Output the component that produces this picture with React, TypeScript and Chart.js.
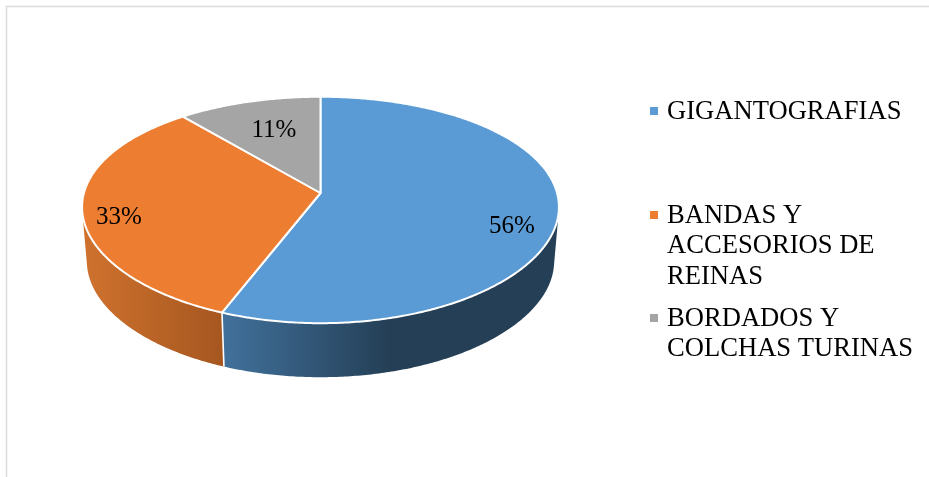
import React, { useEffect, useRef } from "react";
import { Chart, registerables } from "chart.js";

Chart.register(...registerables);

const categories = ["GIGANTOGRAFIAS", "BANDAS Y ACCESORIOS DE REINAS", "BORDADOS Y COLCHAS TURINAS"];
const legendLines = [["GIGANTOGRAFIAS"], ["BANDAS Y", "ACCESORIOS DE", "REINAS"], ["BORDADOS Y", "COLCHAS TURINAS"]];
const values = [56, 33, 11];
const colors = ["#5b9bd5", "#ed7d31", "#a5a5a5"];

const LABEL_FONT = '25px "Liberation Serif"';
const LEGEND_FONT = '26.6px "Liberation Serif"';
const LEGEND_Y = [112, 216, 319];
const LEGEND_LINE = 30.5;
const LABEL_POS = [[512, 226], [119, 217], [274, 130]];
const CY = 193;
const KEEL_X = 0.125;
const KEEL_Y = 0.15;
const DEPTH = 54;
const WALLS: [number, number, [number, string][]][] = [
  [222, 558, [[0, "#41719c"], [0.5, "#243f56"], [1, "#243f56"]]],
  [83, 222, [[0, "#cf722e"], [1, "#a65720"]]],
  [184, 320, [[0, "#7c7c7c"], [1, "#636363"]]],
];

const project = (el: any, a: number) => {
  const X = Math.cos(a);
  const Y = -Math.sin(a);
  return {
    x: el.x + (el.outerRadius * 0.996 * X) / (1 + KEEL_X * Y),
    y: CY - (el.outerRadius * 0.466 * Y) / (1 + KEEL_Y * Y),
  };
};

const rim = (el: any) => {
  const pts = [];
  const n = Math.max(2, Math.ceil((el.endAngle - el.startAngle) / 0.01));
  for (let i = 0; i <= n; i++) pts.push(project(el, el.startAngle + ((el.endAngle - el.startAngle) * i) / n));
  return pts;
};

const down = (el: any, p: { x: number; y: number }) => ({ x: el.x + (p.x - el.x) * 0.98, y: p.y + DEPTH });

const pie3d = {
  id: "pie3d",
  beforeDatasetDraw(chart: any) {
    const ctx = chart.ctx;
    const arcs = chart.getDatasetMeta(0).data;
    ctx.save();
    ctx.lineJoin = "round";
    [2, 1, 0].forEach((i) => {
      const el = arcs[i];
      const pts = rim(el);
      const [x0, x1, stops] = WALLS[i];
      const g = ctx.createLinearGradient(x0, 0, x1, 0);
      stops.forEach(([o, c]) => g.addColorStop(o, c));
      ctx.fillStyle = g;
      ctx.beginPath();
      for (let j = 0; j < pts.length - 1; j++) {
        const quad = [pts[j], pts[j + 1], down(el, pts[j + 1]), down(el, pts[j])];
        let area = 0;
        quad.forEach((p, k) => {
          const q = quad[(k + 1) % 4];
          area += p.x * q.y - q.x * p.y;
        });
        if (area < 0) quad.reverse();
        quad.forEach((p, k) => (k ? ctx.lineTo(p.x, p.y) : ctx.moveTo(p.x, p.y)));
        ctx.closePath();
      }
      ctx.fill("nonzero");
    });
    // seam between the two visible walls
    const seam = project(arcs[0], arcs[0].endAngle);
    const seamB = down(arcs[0], seam);
    ctx.strokeStyle = "#ffffff";
    ctx.lineWidth = 1.6;
    ctx.beginPath();
    ctx.moveTo(seam.x, seam.y);
    ctx.lineTo(seamB.x, seamB.y);
    ctx.stroke();
    // top faces
    arcs.forEach((el: any, i: number) => {
      const pts = rim(el);
      ctx.beginPath();
      ctx.moveTo(el.x, CY);
      pts.forEach((p: any) => ctx.lineTo(p.x, p.y));
      ctx.closePath();
      ctx.fillStyle = colors[i];
      ctx.fill();
      ctx.strokeStyle = "#ffffff";
      ctx.lineWidth = 2;
      ctx.stroke();
    });
    ctx.restore();
    return false;
  },
  afterDraw(chart: any) {
    const ctx = chart.ctx;
    ctx.save();
    // outer frame lines
    ctx.strokeStyle = "#dcdcdc";
    ctx.lineWidth = 1.5;
    ctx.beginPath();
    ctx.moveTo(6.5, 477);
    ctx.lineTo(6.5, 6.5);
    ctx.lineTo(929, 6.5);
    ctx.stroke();
    ctx.fillStyle = "#000000";
    ctx.textBaseline = "middle";
    // data labels
    ctx.font = LABEL_FONT;
    ctx.textAlign = "center";
    const total = values.reduce((a, b) => a + b, 0);
    values.forEach((v, i) => {
      ctx.fillText(`${Math.round((v / total) * 100)}%`, LABEL_POS[i][0], LABEL_POS[i][1]);
    });
    // legend
    ctx.font = LEGEND_FONT;
    ctx.textAlign = "left";
    legendLines.forEach((lines, i) => {
      ctx.fillStyle = colors[i];
      ctx.fillRect(650, LEGEND_Y[i] - 5, 8, 8);
      ctx.fillStyle = "#000000";
      lines.forEach((t, j) => ctx.fillText(t, 667, LEGEND_Y[i] + j * LEGEND_LINE));
    });
    ctx.restore();
  },
};

export default function App() {
  const ref = useRef<HTMLCanvasElement>(null);
  useEffect(() => {
    document.body.style.margin = "0";
    document.body.style.background = "#ffffff";
    const chart = new Chart(ref.current as HTMLCanvasElement, {
      type: "pie",
      data: {
        labels: categories,
        datasets: [{ data: values, backgroundColor: colors, borderColor: "#ffffff", borderWidth: 2 }],
      },
      options: {
        responsive: false,
        animation: false,
        devicePixelRatio: 1,
        layout: { padding: { right: 288 } },
        plugins: { legend: { display: false }, tooltip: { enabled: false } },
      },
      plugins: [pie3d],
    } as any);
    return () => chart.destroy();
  }, []);
  return <canvas ref={ref} width={929} height={477} style={{ display: "block" }} />;
}
